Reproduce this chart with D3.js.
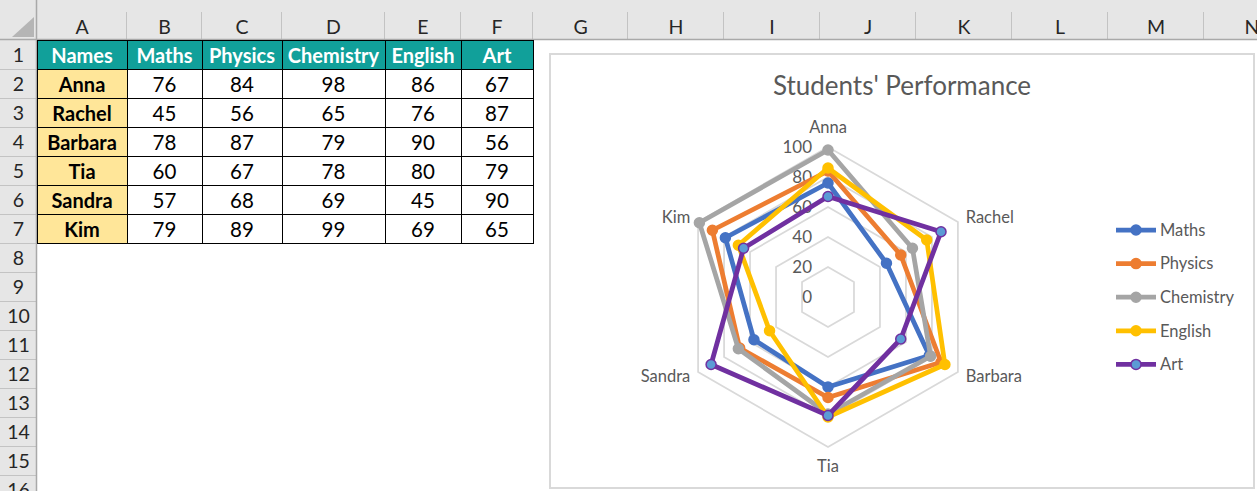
<!DOCTYPE html>
<html>
<head>
<meta charset="utf-8">
<script src="https://cdn.jsdelivr.net/npm/d3@7"></script>
<style>
  body { margin: 0; background: #fff; }
  svg { display: block; }
  .xl { font-family: Lato, "Liberation Sans", sans-serif; }
  .ch { font-family: Lato, "Liberation Sans", sans-serif; fill: #595959; }
</style>
</head>
<body>
<div id="chart-area"></div>
<script>
// data
const students = ["Anna", "Rachel", "Barbara", "Tia", "Sandra", "Kim"];
const subjects = ["Maths", "Physics", "Chemistry", "English", "Art"];
const maths = [76, 45, 78, 60, 57, 79];
const physics = [84, 56, 87, 67, 68, 89];
const chemistry = [98, 65, 79, 78, 69, 99];
const english = [86, 76, 90, 80, 45, 69];
const art = [67, 87, 56, 79, 90, 65];
const tickValues = [0, 20, 40, 60, 80, 100];
const colLetters = ["A","B","C","D","E","F","G","H","I","J","K","L","M","N"];
const rowNumbers = d3.range(1, 17);

const seriesValues = [maths, physics, chemistry, english, art];
const colors = ["#4472c4", "#ed7d31", "#a5a5a5", "#ffc000", "#7030a0"];
const markerFill = ["#4472c4", "#ed7d31", "#a5a5a5", "#ffc000", "#5b9bd5"];

const W = 1257, H = 491;

let svg = d3.select("#chart-area")
    .append("svg")
    .attr("width", W)
    .attr("height", H);

// ---------- worksheet ----------
const headH = 40, rowH = 29, rowHeadW = 37, gridTop = 41;
const colWidths = [90, 75, 80, 103, 76, 72, 95, 96, 96, 96, 96, 96, 96, 96];
let colX = [rowHeadW];
colWidths.forEach((w, i) => colX.push(colX[i] + w));
const rowY = n => gridTop + (n - 1) * rowH;

let sheet = svg.append("g").attr("class", "xl");

// header band + row header
sheet.append("rect").attr("x", 0).attr("y", 0).attr("width", W).attr("height", headH).attr("fill", "#e6e6e6");
sheet.append("rect").attr("x", 0).attr("y", 0).attr("width", rowHeadW).attr("height", H).attr("fill", "#e6e6e6");

// select-all triangle
sheet.append("path")
    .attr("d", `M12,37 L34,17 L34,37 Z`)
    .attr("fill", "#b5b5b5");

sheet.selectAll(".colsep")
    .data(colX)
    .enter().append("line")
    .attr("x1", d => d - 0.5).attr("x2", d => d - 0.5)
    .attr("y1", 12).attr("y2", headH)
    .attr("stroke", "#c3c3c3");

sheet.selectAll(".colname")
    .data(colLetters)
    .enter().append("text")
    .attr("x", (d, i) => (colX[i] + colX[i + 1]) / 2)
    .attr("y", 27)
    .attr("dy", "0.35em")
    .attr("text-anchor", "middle")
    .attr("font-size", 19.5)
    .attr("fill", "#262626")
    .text(d => d);

sheet.selectAll(".rowsep")
    .data(rowNumbers)
    .enter().append("line")
    .attr("x1", 0).attr("x2", rowHeadW)
    .attr("y1", d => rowY(d) + rowH - 0.5).attr("y2", d => rowY(d) + rowH - 0.5)
    .attr("stroke", "#c3c3c3");

sheet.selectAll(".rowname")
    .data(rowNumbers)
    .enter().append("text")
    .attr("x", rowHeadW / 2)
    .attr("y", d => rowY(d) + rowH / 2)
    .attr("dy", "0.35em")
    .attr("text-anchor", "middle")
    .attr("font-size", 19.5)
    .attr("fill", "#262626")
    .text(d => d);

sheet.append("line")
    .attr("x1", 0).attr("x2", W).attr("y1", headH - 0.5).attr("y2", headH - 0.5)
    .attr("stroke", "#a9a9a9").attr("stroke-width", 1.5);
sheet.append("line")
    .attr("x1", rowHeadW - 0.5).attr("x2", rowHeadW - 0.5).attr("y1", 0).attr("y2", H)
    .attr("stroke", "#a9a9a9").attr("stroke-width", 1.5);

// table cells
let cells = [];
["Names"].concat(subjects).forEach((t, c) => cells.push({row: 1, col: c, text: t, kind: "head"}));
students.forEach((s, r) => {
    cells.push({row: r + 2, col: 0, text: s, kind: "name"});
    seriesValues.forEach((vals, c) => cells.push({row: r + 2, col: c + 1, text: vals[r], kind: "val"}));
});

let cell = sheet.selectAll(".cell")
    .data(cells)
    .enter().append("g");

cell.append("rect")
    .attr("x", d => colX[d.col] + 0.5)
    .attr("y", d => rowY(d.row) - 0.5)
    .attr("width", d => colWidths[d.col])
    .attr("height", rowH)
    .attr("fill", d => d.kind == "head" ? "#11a09a" : (d.kind == "name" ? "#ffe699" : "#fff"))
    .attr("stroke", "#000")
    .attr("stroke-width", 1);

cell.append("text")
    .attr("x", d => colX[d.col] + colWidths[d.col] / 2)
    .attr("y", d => rowY(d.row) + rowH / 2)
    .attr("dy", "0.35em")
    .attr("text-anchor", "middle")
    .attr("font-size", d => d.kind == "val" ? 20.5 : 20)
    .attr("font-weight", d => d.kind == "val" ? "normal" : "bold")
    .attr("fill", d => d.kind == "head" ? "#fff" : "#000")
    .text(d => d.text);

// ---------- chart ----------
let chart = svg.append("g").attr("class", "ch");

chart.append("rect")
    .attr("x", 550).attr("y", 54)
    .attr("width", 704).attr("height", 434)
    .attr("fill", "#fff")
    .attr("stroke", "#d9d9d9")
    .attr("stroke-width", 2);

chart.append("text")
    .attr("x", 902).attr("y", 86)
    .attr("dy", "0.35em")
    .attr("text-anchor", "middle")
    .attr("font-size", 26)
    .text("Students' Performance");

const cx = 828, cy = 297, R = 150;
let rScale = d3.scaleLinear().domain([0, 100]).range([0, R]);
let aScale = d3.scaleLinear().domain([0, students.length]).range([0, 2 * Math.PI]);

let radar = chart.append("g").attr("transform", "translate(" + cx + "," + cy + ")");

let radial = d3.lineRadial()
    .angle((d, i) => aScale(i))
    .radius(d => rScale(d))
    .curve(d3.curveLinearClosed);

// gridlines
radar.selectAll(".grid")
    .data(tickValues.filter(t => t > 0))
    .enter().append("path")
    .attr("d", t => radial(students.map(() => t)))
    .attr("fill", "none")
    .attr("stroke", "#d9d9d9")
    .attr("stroke-width", 1.75);

// value labels
radar.selectAll(".tick")
    .data(tickValues)
    .enter().append("text")
    .attr("x", -16)
    .attr("y", t => -rScale(t))
    .attr("dy", "0.35em")
    .attr("text-anchor", "end")
    .attr("font-size", 17)
    .text(t => t);

// category labels
radar.selectAll(".cat")
    .data(students)
    .enter().append("text")
    .each(function (s, i) {
        let a = aScale(i);
        let p = d3.pointRadial(a, R);
        let t = d3.select(this);
        if (Math.abs(Math.sin(a)) < 0.1) {
            t.attr("x", p[0]).attr("y", p[1] + (Math.cos(a) > 0 ? -20 : 19)).attr("text-anchor", "middle");
        } else {
            let q = d3.pointRadial(a, R + 9);
            t.attr("x", q[0]).attr("y", q[1]).attr("text-anchor", Math.sin(a) > 0 ? "start" : "end");
        }
    })
    .attr("dy", "0.35em")
    .attr("font-size", 16.5)
    .text(s => s);

// series
let series = radar.selectAll(".series")
    .data(seriesValues)
    .enter().append("g");

series.append("path")
    .attr("d", d => radial(d))
    .attr("fill", "none")
    .attr("stroke", (d, i) => colors[i])
    .attr("stroke-width", 4.75)
    .attr("stroke-linejoin", "round");

series.each(function (vals, si) {
    d3.select(this).selectAll("circle")
        .data(vals)
        .enter().append("circle")
        .attr("cx", (v, i) => d3.pointRadial(aScale(i), rScale(v))[0])
        .attr("cy", (v, i) => d3.pointRadial(aScale(i), rScale(v))[1])
        .attr("r", 5)
        .attr("fill", markerFill[si])
        .attr("stroke", colors[si])
        .attr("stroke-width", 1.5);
});

// legend
let legend = chart.selectAll(".legend")
    .data(subjects)
    .enter().append("g")
    .attr("transform", (d, i) => "translate(1116," + (230 + i * 33.6) + ")");

legend.append("line")
    .attr("x1", 0).attr("x2", 40)
    .attr("stroke", (d, i) => colors[i])
    .attr("stroke-width", 4.75);
legend.append("circle")
    .attr("cx", 20).attr("r", 5)
    .attr("fill", (d, i) => markerFill[i])
    .attr("stroke", (d, i) => colors[i])
    .attr("stroke-width", 1.5);
legend.append("text")
    .attr("x", 44)
    .attr("dy", "0.35em")
    .attr("font-size", 16.5)
    .text(d => d);
</script>
</body>
</html>
